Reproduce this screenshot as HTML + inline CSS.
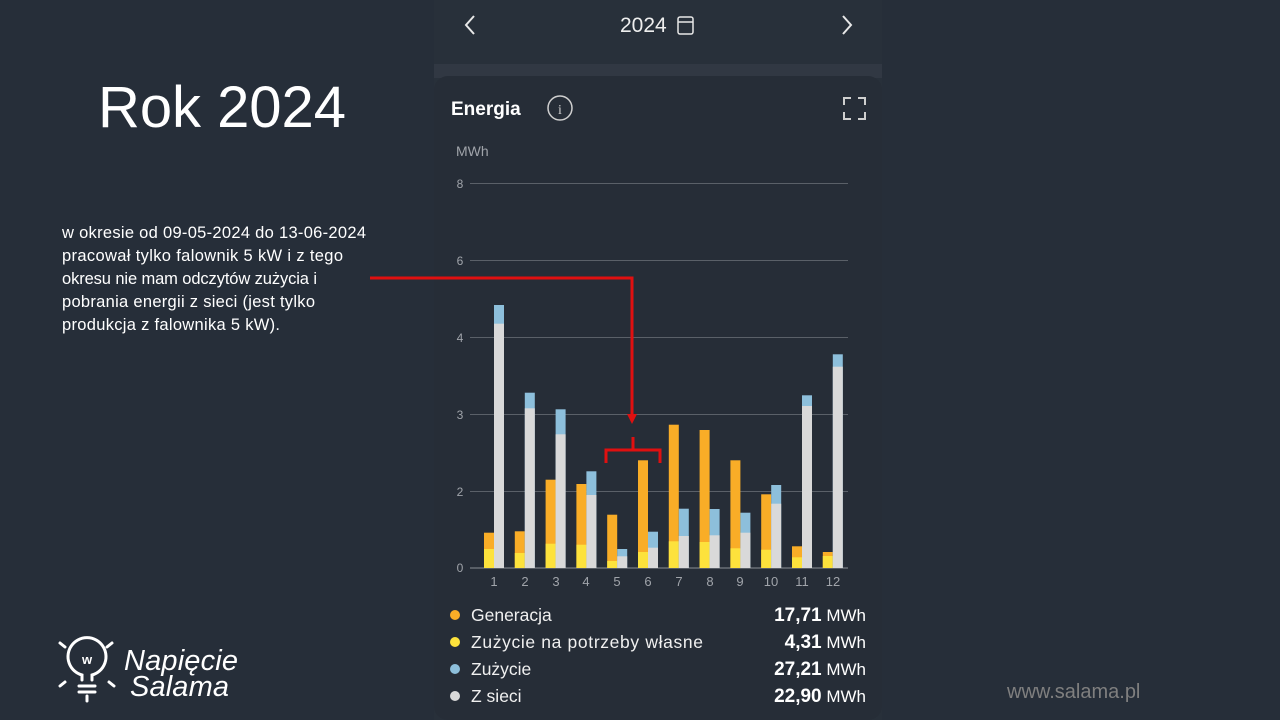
<!DOCTYPE html>
<html><head><meta charset="utf-8"><style>
body{margin:0;width:1280px;height:720px;background:#262e39;overflow:hidden;font-family:"Liberation Sans",sans-serif;}
</style></head><body>
<svg width="1280" height="720" xmlns="http://www.w3.org/2000/svg" style="position:absolute;left:0;top:0">
<rect x="0" y="0" width="1280" height="720" fill="#262e39"/>
<rect x="434" y="0" width="448" height="720" fill="#28303a"/>
<rect x="434" y="64" width="448" height="14" fill="#313843"/>
<rect x="434" y="76" width="448" height="644" rx="14" fill="#262d37"/>
<polyline points="474,16 466,25 474,34" fill="none" stroke="#e8e8e8" stroke-width="2"/>
<polyline points="843,16 851,25 843,34" fill="none" stroke="#e8e8e8" stroke-width="2"/>
<text x="620" y="32" font-size="21" fill="#eeeeee">2024</text>
<rect x="678" y="17" width="15" height="17" rx="2" fill="none" stroke="#e8e8e8" stroke-width="1.5"/>
<line x1="678" y1="22" x2="693" y2="22" stroke="#e8e8e8" stroke-width="1.5"/>
<text x="451" y="115" font-size="19" font-weight="bold" fill="#ffffff">Energia</text>
<circle cx="560" cy="108" r="12" fill="none" stroke="#cfcfcf" stroke-width="1.5"/>
<text x="560" y="114" font-size="14" fill="#cfcfcf" text-anchor="middle" font-family="Liberation Serif">i</text>
<path d="M844,105 v-7 h7 M858,98 h7 v7 M865,112 v7 h-7 M851,119 h-7 v-7" fill="none" stroke="#cfcfcf" stroke-width="2"/>
<text x="456" y="156" font-size="14" fill="#a0a4aa">MWh</text>
<g stroke="#5a6068" stroke-width="1">
<line x1="470" y1="183.5" x2="848" y2="183.5"/>
<line x1="470" y1="260.5" x2="848" y2="260.5"/>
<line x1="470" y1="337.5" x2="848" y2="337.5"/>
<line x1="470" y1="414.5" x2="848" y2="414.5"/>
<line x1="470" y1="491.5" x2="848" y2="491.5"/>
<line x1="470" y1="568" x2="848" y2="568" stroke="#8a8f96"/>
</g>
<g font-size="12" fill="#a0a4aa" text-anchor="middle">
<text x="460" y="188">8</text><text x="460" y="265">6</text><text x="460" y="342">4</text>
<text x="460" y="419">3</text><text x="460" y="496">2</text><text x="460" y="572">0</text>
</g>
<g font-size="13" fill="#a0a4aa" text-anchor="middle">
<text x="494" y="586">1</text><text x="525" y="586">2</text><text x="556" y="586">3</text><text x="586" y="586">4</text>
<text x="617" y="586">5</text><text x="648" y="586">6</text><text x="679" y="586">7</text><text x="710" y="586">8</text>
<text x="740" y="586">9</text><text x="771" y="586">10</text><text x="802" y="586">11</text><text x="833" y="586">12</text>
</g>
<g>
<rect x="484" y="532.7" width="10" height="35.3" fill="#f9ad27"/><rect x="484" y="549" width="10" height="19" fill="#fde23c"/><rect x="494" y="305" width="10" height="263" fill="#8dbfdb"/><rect x="494" y="323.7" width="10" height="244.3" fill="#d9d9d9"/>
<rect x="514.8" y="531.3" width="10" height="36.7" fill="#f9ad27"/><rect x="514.8" y="553" width="10" height="15" fill="#fde23c"/><rect x="524.8" y="392.7" width="10" height="175.3" fill="#8dbfdb"/><rect x="524.8" y="408.3" width="10" height="159.7" fill="#d9d9d9"/>
<rect x="545.6" y="479.7" width="10" height="88.3" fill="#f9ad27"/><rect x="545.6" y="543.7" width="10" height="24.3" fill="#fde23c"/><rect x="555.6" y="409.3" width="10" height="158.7" fill="#8dbfdb"/><rect x="555.6" y="434.3" width="10" height="133.7" fill="#d9d9d9"/>
<rect x="576.4" y="484" width="10" height="84" fill="#f9ad27"/><rect x="576.4" y="544.7" width="10" height="23.3" fill="#fde23c"/><rect x="586.4" y="471.3" width="10" height="96.7" fill="#8dbfdb"/><rect x="586.4" y="495" width="10" height="73" fill="#d9d9d9"/>
<rect x="607.2" y="514.7" width="10" height="53.3" fill="#f9ad27"/><rect x="607.2" y="561" width="10" height="7" fill="#fde23c"/><rect x="617.2" y="549" width="10" height="19" fill="#8dbfdb"/><rect x="617.2" y="556.3" width="10" height="11.7" fill="#d9d9d9"/>
<rect x="638" y="460.3" width="10" height="107.7" fill="#f9ad27"/><rect x="638" y="552" width="10" height="16" fill="#fde23c"/><rect x="648" y="531.7" width="10" height="36.3" fill="#8dbfdb"/><rect x="648" y="547.7" width="10" height="20.3" fill="#d9d9d9"/>
<rect x="668.8" y="424.7" width="10" height="143.3" fill="#f9ad27"/><rect x="668.8" y="541.3" width="10" height="26.7" fill="#fde23c"/><rect x="678.8" y="508.7" width="10" height="59.3" fill="#8dbfdb"/><rect x="678.8" y="536" width="10" height="32" fill="#d9d9d9"/>
<rect x="699.6" y="430" width="10" height="138" fill="#f9ad27"/><rect x="699.6" y="542" width="10" height="26" fill="#fde23c"/><rect x="709.6" y="509" width="10" height="59" fill="#8dbfdb"/><rect x="709.6" y="535.3" width="10" height="32.7" fill="#d9d9d9"/>
<rect x="730.4" y="460.3" width="10" height="107.7" fill="#f9ad27"/><rect x="730.4" y="548.3" width="10" height="19.7" fill="#fde23c"/><rect x="740.4" y="512.7" width="10" height="55.3" fill="#8dbfdb"/><rect x="740.4" y="532.7" width="10" height="35.3" fill="#d9d9d9"/>
<rect x="761.2" y="494.3" width="10" height="73.7" fill="#f9ad27"/><rect x="761.2" y="549.7" width="10" height="18.3" fill="#fde23c"/><rect x="771.2" y="485" width="10" height="83" fill="#8dbfdb"/><rect x="771.2" y="503.7" width="10" height="64.3" fill="#d9d9d9"/>
<rect x="792" y="546.3" width="10" height="21.7" fill="#f9ad27"/><rect x="792" y="557.3" width="10" height="10.7" fill="#fde23c"/><rect x="802" y="395.3" width="10" height="172.7" fill="#8dbfdb"/><rect x="802" y="406" width="10" height="162" fill="#d9d9d9"/>
<rect x="822.8" y="552" width="10" height="16" fill="#f9ad27"/><rect x="822.8" y="556" width="10" height="12" fill="#fde23c"/><rect x="832.8" y="354.3" width="10" height="213.7" fill="#8dbfdb"/><rect x="832.8" y="366.7" width="10" height="201.3" fill="#d9d9d9"/>
</g>
<polyline points="370,278 632,278 632,416" fill="none" stroke="#e01010" stroke-width="3"/>
<polygon points="627,414 637,414 632,424" fill="#e01010"/>
<path d="M606,463 V450 H660 V463 M633,450 V437" fill="none" stroke="#e01010" stroke-width="3"/>
<g font-size="17.5" fill="#f0f0f0">
<circle cx="455" cy="615" r="5" fill="#f9ad27"/><text x="471" y="621">Generacja</text>
<circle cx="455" cy="642" r="5" fill="#fde23c"/><text x="471" y="648" textLength="232">Zużycie na potrzeby własne</text>
<circle cx="455" cy="669" r="5" fill="#8dbfdb"/><text x="471" y="675">Zużycie</text>
<circle cx="455" cy="696" r="5" fill="#d9d9d9"/><text x="471" y="702">Z sieci</text>
</g>
<g font-size="17" fill="#ffffff" text-anchor="end">
<text x="866" y="621"><tspan font-weight="bold" font-size="19">17,71</tspan> MWh</text>
<text x="866" y="648"><tspan font-weight="bold" font-size="19">4,31</tspan> MWh</text>
<text x="866" y="675"><tspan font-weight="bold" font-size="19">27,21</tspan> MWh</text>
<text x="866" y="702"><tspan font-weight="bold" font-size="19">22,90</tspan> MWh</text>
</g>
<text x="98" y="127" font-size="58" fill="#ffffff" textLength="248">Rok 2024</text>
<g font-size="16.5" fill="#ffffff">
<text x="62" y="238" textLength="304">w okresie od 09-05-2024 do 13-06-2024</text>
<text x="62" y="261" textLength="281">pracował tylko falownik 5 kW i z tego</text>
<text x="62" y="284" textLength="255">okresu nie mam odczytów zużycia i</text>
<text x="62" y="307" textLength="253">pobrania energii z sieci (jest tylko</text>
<text x="62" y="330" textLength="218">produkcja z falownika 5 kW).</text>
</g>
<text x="1007" y="698" font-size="20" fill="#7f7f7f">www.salama.pl</text>
<g fill="none" stroke="#ffffff" stroke-width="3" stroke-linecap="round">
<path d="M82,680 v-5 a19,19 0 1,1 10,0 v5"/>
<path d="M79,686 h16 M79,692 h16"/>
<path d="M87,696 v5"/>
<path d="M60,643 l5,4 M112,643 l-5,4 M60,686 l5,-4 M114,686 l-5,-4"/>
</g>
<text x="87" y="664" font-size="13" font-weight="bold" fill="#fff" text-anchor="middle">w</text>
<text x="124" y="670" font-size="29" font-style="italic" fill="#fff" textLength="114">Napięcie</text>
<text x="130" y="696" font-size="29" font-style="italic" fill="#fff" textLength="99">Salama</text>
</svg>
</body></html>
